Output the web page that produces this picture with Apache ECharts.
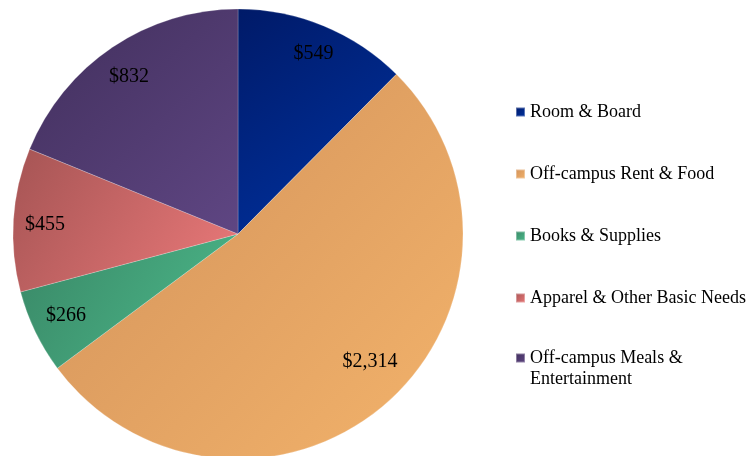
<!DOCTYPE html>
<html>
<head>
<meta charset="utf-8">
<script src="https://cdn.jsdelivr.net/npm/echarts@6/dist/echarts.min.js"></script>
<style>
html,body{margin:0;padding:0;background:#fff;}
#chart{width:752px;height:456px;}
</style>
</head>
<body>
<div id="chart"></div>
<script>
// 数据
var categories = ['Room & Board', 'Off-campus Rent & Food', 'Books & Supplies', 'Apparel & Other Basic Needs', 'Off-campus Meals & Entertainment'];
var amounts = [549, 2314, 266, 455, 832];
// 渐变色 (左上深 -> 右下浅)
var colorsFrom = ['#001a68', '#d1915a', '#398766', '#a55454', '#412f5c'];
var colorsTo = ['#0033a3', '#f3b36b', '#4dbb8c', '#ec7a7a', '#5f4683'];

var chart = echarts.init(document.getElementById('chart'));
var serif = '"Liberation Serif", "Times New Roman", serif';

function grad(i){
	return new echarts.graphic.LinearGradient(0, 0, 1, 1, [
		{offset: 0, color: colorsFrom[i]},
		{offset: 1, color: colorsTo[i]}
	]);
}

// 标签微调
var labelNudge = [[1, 1], [4, -20], [4, -3], [2, 3], [0, 5]];

var pieData = [];
var labelData = [];
for (var i = 0; i < categories.length; i++) {
	pieData.push({name: categories[i], value: amounts[i], itemStyle: {color: grad(i)}});
	labelData.push({name: categories[i], value: amounts[i], label: {offset: labelNudge[i]}});
}

var legendItems = categories.map(function(name, i){
	return {name: name, itemStyle: {color: grad(i)}};
});
var lastIdx = categories.length - 1;

var legendBase = {
	orient: 'vertical',
	left: 515,
	padding: 0,
	itemWidth: 9,
	itemHeight: 9,
	itemGap: 41,
	icon: 'rect',
	selectedMode: false,
	textStyle: {fontFamily: serif, fontSize: 18, lineHeight: 21, color: '#000'}
};

var option = {
	animation: false,
	legend: [
		Object.assign({}, legendBase, {top: 101.5, data: legendItems.slice(0, lastIdx)}),
		// 最后一项两行，图标对齐第一行
		Object.assign({}, legendBase, {
			top: 326.5,
			data: [legendItems[lastIdx]],
			formatter: function(name){ return '\nOff-campus Meals &\nEntertainment'; }
		})
	],
	series: [
		{
			type: 'pie',
			center: [238, 234],
			radius: [0, 225],
			startAngle: 90,
			clockwise: true,
			silent: true,
			label: {show: false},
			labelLine: {show: false},
			itemStyle: {borderWidth: 0.6, borderColor: 'rgba(255,255,255,0.35)'},
			data: pieData
		},
		{
			// 标签层：内侧靠外显示金额
			type: 'pie',
			center: [238, 234],
			radius: [160, 225],
			startAngle: 90,
			clockwise: true,
			silent: true,
			itemStyle: {color: 'rgba(0,0,0,0)'},
			label: {
				show: true,
				position: 'inside',
				fontFamily: serif,
				fontSize: 20,
				color: '#000',
				formatter: function(p){ return '$' + p.value.toLocaleString('en-US'); }
			},
			labelLine: {show: false},
			data: labelData
		}
	]
};
chart.setOption(option);
</script>
</body>
</html>
